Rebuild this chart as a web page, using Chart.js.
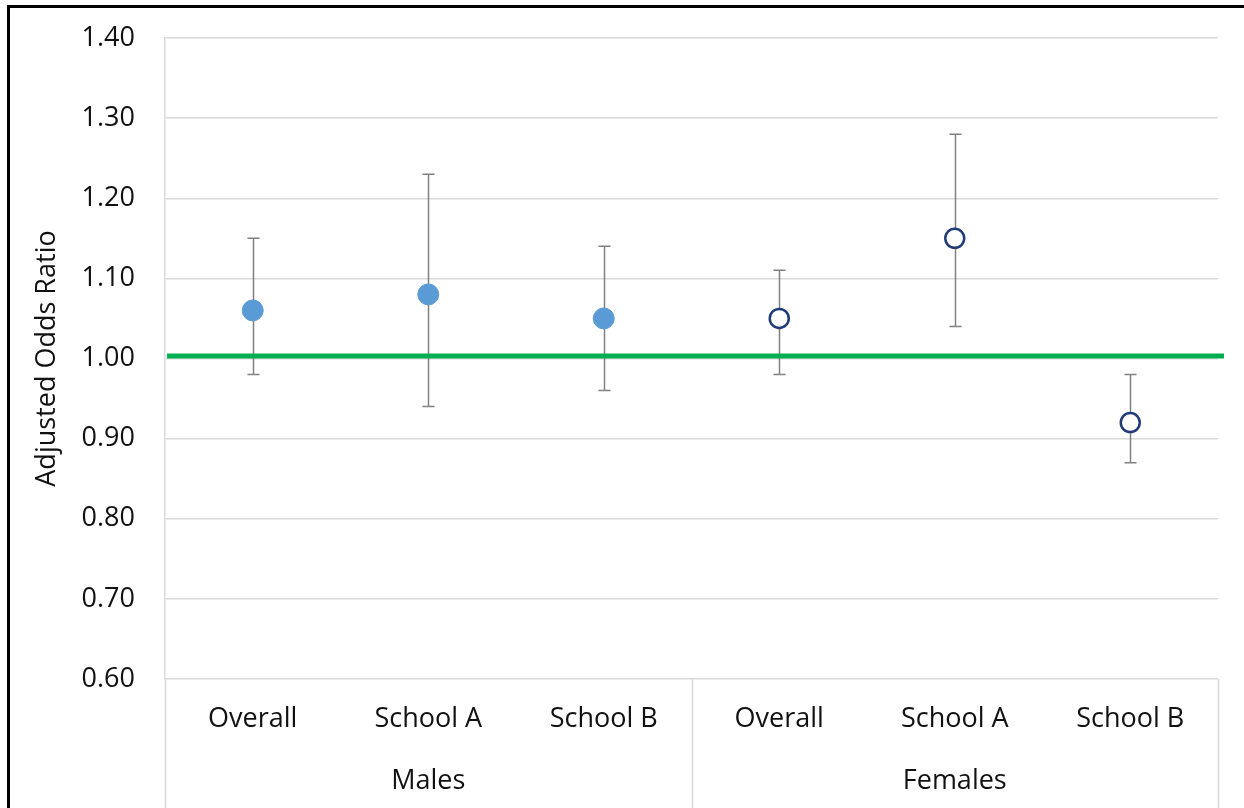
<!DOCTYPE html>
<html lang="en">
<head>
    <meta charset="UTF-8">
    <title>Adjusted Odds Ratio</title>
    <script src="https://cdn.jsdelivr.net/npm/chart.js"></script>
    <style>
        html, body {
            margin: 0;
            padding: 0;
            background: #fff;
            overflow: hidden;
        }

        .wrap {
            position: relative;
            width: 1244px;
            height: 808px;
        }

        .frame {
            position: absolute;
            left: 7px;
            top: 5px;
            width: 1260px;
            height: 820px;
            border-top: 3px solid #000;
            border-left: 3px solid #000;
        }

        canvas {
            position: absolute;
            left: 0;
            top: 0;
        }
    </style>
</head>
<body>
    <div class="wrap">
        <div class="frame"></div>
        <canvas id="orChart" width="1244" height="808"></canvas>
    </div>

    <script>
        const categories = ['Overall', 'School A', 'School B', 'Overall', 'School A', 'School B'];
        const groups = ['Males', 'Females'];
        const groupSize = 3;

        // odds ratio + 95% CI, null where the other group's slot is
        const malesOR = [1.06, 1.08, 1.05, null, null, null];
        const malesLow = [0.98, 0.94, 0.96, null, null, null];
        const malesHigh = [1.15, 1.23, 1.14, null, null, null];

        const femalesOR = [null, null, null, 1.05, 1.15, 0.92];
        const femalesLow = [null, null, null, 0.98, 1.04, 0.87];
        const femalesHigh = [null, null, null, 1.11, 1.28, 0.98];

        const refLine = 1.003;
        const yTicks = [0.6, 0.7, 0.8, 0.9, 1.0, 1.1, 1.2, 1.3, 1.4];

        const FONT = '"Open Sans", "Noto Sans", sans-serif';
        const TEXT = '#111';

        // whiskers go under the markers
        const errorBars = {
            id: 'errorBars',
            beforeDatasetsDraw(chart) {
                const ctx = chart.ctx;
                const y = chart.scales.y;
                ctx.save();
                ctx.strokeStyle = '#808080';
                ctx.lineWidth = 1.5;
                chart.data.datasets.forEach((ds, di) => {
                    if (!ds.low) return;
                    const meta = chart.getDatasetMeta(di);
                    meta.data.forEach((pt, i) => {
                        if (ds.low[i] == null) return;
                        const x = Math.round(pt.x) + 0.5;
                        const yl = y.getPixelForValue(ds.low[i]);
                        const yh = y.getPixelForValue(ds.high[i]);
                        ctx.beginPath();
                        ctx.moveTo(x, yh);
                        ctx.lineTo(x, yl);
                        ctx.moveTo(x - 6, yh);
                        ctx.lineTo(x + 6, yh);
                        ctx.moveTo(x - 6, yl);
                        ctx.lineTo(x + 6, yl);
                        ctx.stroke();
                    });
                });
                ctx.restore();
            }
        };

        // green reference line at OR = 1, plus the grouped axis underneath
        const extras = {
            id: 'extras',
            afterDatasetsDraw(chart) {
                const ctx = chart.ctx;
                const area = chart.chartArea;
                const y = chart.scales.y;
                ctx.save();
                ctx.strokeStyle = '#00B050';
                ctx.lineWidth = 5;
                const yr = y.getPixelForValue(refLine);
                ctx.beginPath();
                ctx.moveTo(area.left + 2, yr);
                ctx.lineTo(area.right + 6, yr);
                ctx.stroke();
                ctx.restore();
            },
            afterDraw(chart) {
                const ctx = chart.ctx;
                const area = chart.chartArea;
                const x = chart.scales.x;
                const step = (area.right - area.left) / categories.length;
                ctx.save();
                ctx.strokeStyle = '#d9d9d9';
                ctx.lineWidth = 1.5;
                ctx.beginPath();
                for (let g = 0; g <= groups.length; g++) {
                    const px = Math.round(area.left + g * groupSize * step) + 0.5;
                    ctx.moveTo(px, area.bottom);
                    ctx.lineTo(px, chart.height);
                }
                ctx.stroke();

                ctx.fillStyle = TEXT;
                ctx.font = '27px ' + FONT;
                ctx.textAlign = 'center';
                ctx.textBaseline = 'middle';
                groups.forEach((g, gi) => {
                    const first = x.getPixelForValue(gi * groupSize);
                    const last = x.getPixelForValue(gi * groupSize + groupSize - 1);
                    ctx.fillText(g, (first + last) / 2, 781);
                });
                ctx.restore();
            }
        };

        new Chart(document.getElementById('orChart'), {
            type: 'line',
            data: {
                labels: categories,
                datasets: [
                    {
                        label: 'Males',
                        data: malesOR,
                        low: malesLow,
                        high: malesHigh,
                        showLine: false,
                        pointRadius: 10.5,
                        pointBackgroundColor: '#5B9BD5',
                        pointBorderColor: '#5B9BD5',
                        pointBorderWidth: 1
                    },
                    {
                        label: 'Females',
                        data: femalesOR,
                        low: femalesLow,
                        high: femalesHigh,
                        showLine: false,
                        pointRadius: 9.5,
                        pointBackgroundColor: '#ffffff',
                        pointBorderColor: '#1F3C78',
                        pointBorderWidth: 2.5
                    }
                ]
            },
            options: {
                responsive: false,
                animation: false,
                layout: {
                    padding: { top: 38, left: 8, right: 26, bottom: 0 }
                },
                plugins: {
                    legend: { display: false },
                    tooltip: { enabled: false }
                },
                scales: {
                    x: {
                        type: 'category',
                        offset: true,
                        grid: { display: false, drawTicks: false },
                        border: { display: false },
                        ticks: {
                            padding: 24,
                            color: TEXT,
                            font: { family: FONT, size: 27 },
                            maxRotation: 0,
                            autoSkip: false
                        },
                        afterFit(scale) {
                            scale.height = 129;
                        }
                    },
                    y: {
                        min: 0.6,
                        max: 1.4,
                        afterBuildTicks(scale) {
                            scale.ticks = yTicks.map(v => ({ value: v }));
                        },
                        grid: { color: '#d9d9d9', lineWidth: 1.5, drawTicks: false },
                        border: { color: '#d9d9d9', width: 1.5 },
                        ticks: {
                            padding: 30,
                            color: TEXT,
                            font: { family: FONT, size: 27 },
                            callback: v => v.toFixed(2)
                        },
                        title: {
                            display: true,
                            text: 'Adjusted Odds Ratio',
                            color: TEXT,
                            font: { family: FONT, size: 27 },
                            padding: { top: 23, bottom: 0 }
                        },
                        afterFit(scale) {
                            scale.width = 157;
                            // tick padding would otherwise push the plot top down
                            scale.paddingTop = 0;
                            scale.paddingBottom = 0;
                        }
                    }
                }
            },
            plugins: [errorBars, extras]
        });
    </script>
</body>
</html>
